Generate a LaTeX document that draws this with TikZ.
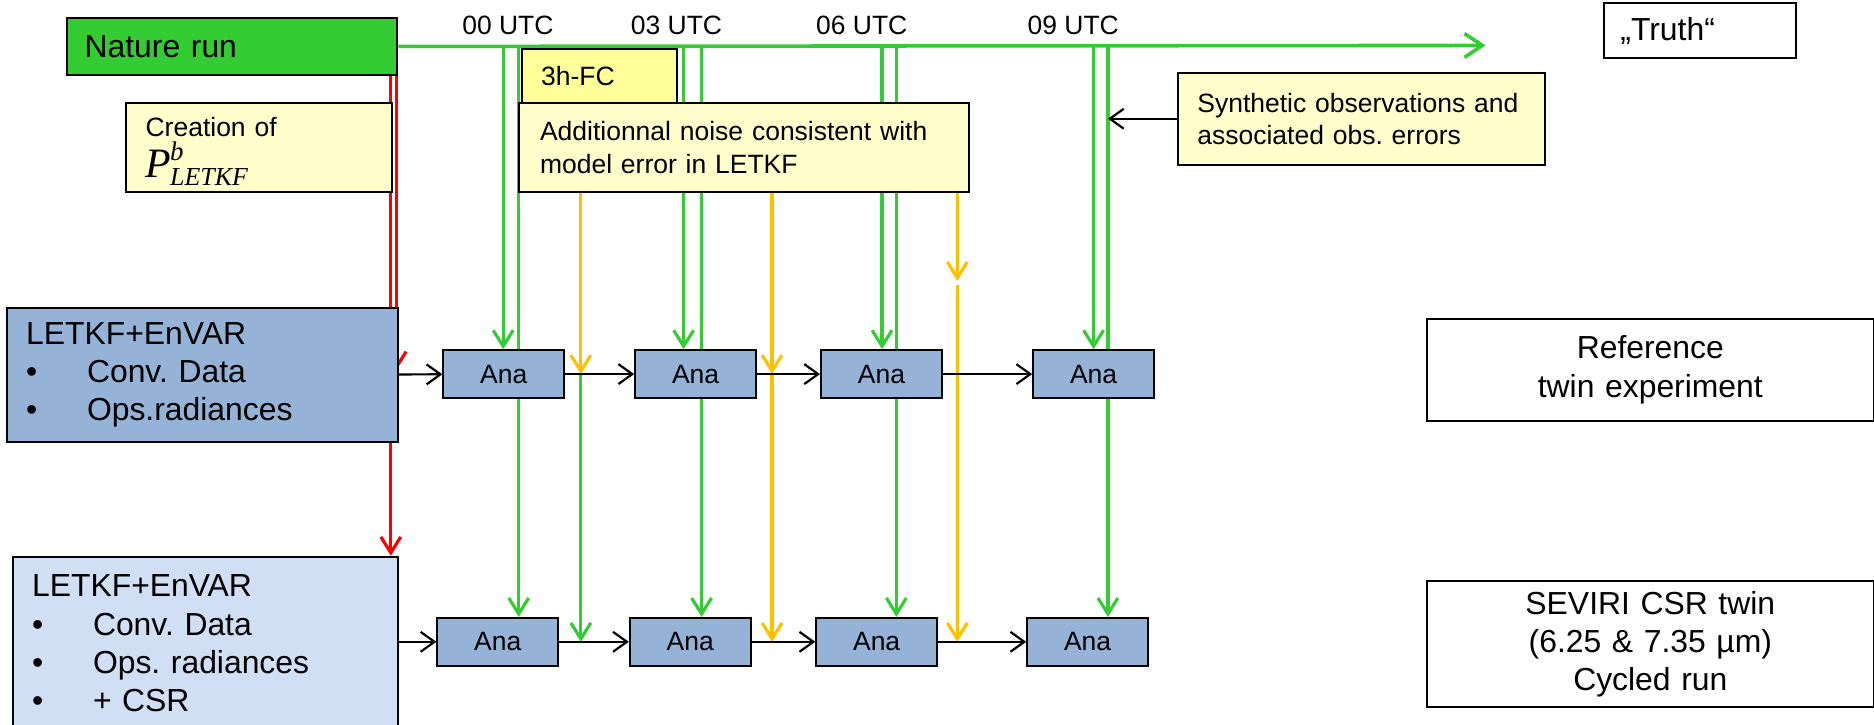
\documentclass[tikz,border=0pt]{standalone}
\usepackage{fontspec}
\setmainfont{Liberation Sans}
\newfontfamily\timesfont{Liberation Serif}
\usetikzlibrary{arrows.meta,backgrounds}
\frenchspacing

\definecolor{natgreen}{HTML}{33CC33}
\definecolor{fcorange}{HTML}{FFC000}
\definecolor{notefill}{HTML}{FFFFCC}
\definecolor{fcfill}{HTML}{FFFF99}
\definecolor{letkfblue}{HTML}{95B3D7}
\definecolor{csrblue}{HTML}{D0DFF3}

\newcommand{\bigtext}{\fontsize{16}{19.2}\selectfont}
\newcommand{\smalltext}{\fontsize{13.3}{16.2}\selectfont}
\newcommand{\pletkf}{{\timesfont\itshape\fontsize{21}{21}\selectfont P\kern-0.5pt\rlap{\smash{\raisebox{8.5pt}{\fontsize{13.5}{13.5}\selectfont b}}}\smash{\raisebox{-4pt}{\fontsize{13}{13}\selectfont LETKF}}}}

\begin{document}
\begin{tikzpicture}[x=0.6pt,y=-0.6pt]
  \tikzset{box/.style={draw,line width=1pt,anchor=north west,inner ysep=0pt,align=left},
           note/.style={box,fill=notefill,font=\smalltext},
           ana/.style={draw,line width=1pt,fill=letkfblue,inner sep=0pt,minimum width=60.6pt,minimum height=24pt,font=\smalltext},
           flow/.style={-{Straight Barb[length=7pt,width=10pt]},line width=1.1pt},
           obsline/.style={natgreen,line width=1.6pt,-{Straight Barb[length=8pt,width=10pt]}},
           fcline/.style={fcorange,line width=1.6pt,-{Straight Barb[length=8pt,width=10pt]}},
           ensline/.style={red,line width=1.6pt,-{Straight Barb[length=8pt,width=10pt]}}}
  \useasboundingbox (0,0) rectangle (1568,606);

  \node [box,fill=natgreen,font=\bigtext,inner xsep=9pt,text width=148pt,minimum height=28.2pt] (nat) at (55,14.5) {Nature run};
  \node [box,font=\bigtext,inner xsep=8.4pt,text width=79.8pt,minimum height=27.6pt] (truth) at (1341,2) {„Truth“};
  \node [box,fill=fcfill,font=\smalltext,inner xsep=9.6pt,text width=58.8pt,minimum height=27.6pt] (fc) at (436,40) {3h-FC};
  \node [note,inner xsep=10.8pt,text width=204.6pt,minimum height=45pt] (noise) at (433,85) {Additionnal noise consistent with\\model error in LETKF};
  \node [note,inner xsep=9.6pt,text width=114pt,minimum height=45pt] (create) at (105,85) {Creation of\\[4pt]\pletkf};
  \node [note,inner xsep=9.6pt,text width=165pt,minimum height=46.2pt] (synth) at (985,60) {Synthetic observations and\\associated obs. errors};

  \node [box,fill=letkfblue,font=\bigtext,inner xsep=9.6pt,text width=177pt,minimum height=67.2pt] (L1) at (5,257)
    {LETKF+EnVAR\\\makebox[30.6pt][l]{\textbullet}Conv. Data\\\makebox[30.6pt][l]{\textbullet}Ops.radiances};
  \node [box,fill=csrblue,font=\bigtext,inner xsep=9.6pt,text width=174pt,minimum height=87pt] (L2) at (10,465)
    {LETKF+EnVAR\\\makebox[30.6pt][l]{\textbullet}Conv. Data\\\makebox[30.6pt][l]{\textbullet}Ops. radiances\\\makebox[30.6pt][l]{\textbullet}+ CSR};
  \node [box,font=\bigtext,align=center,inner xsep=0pt,text width=224.4pt,minimum height=51pt] (ref) at (1193,266) {Reference\\twin experiment};
  \node [box,font=\bigtext,align=center,inner xsep=0pt,text width=224.4pt,minimum height=63.6pt] (sevi) at (1193,485) {SEVIRI CSR twin\\(6.25 \& 7.35 µm)\\Cycled run};

  \node [font=\smalltext] (u00) at (425,21.5) {00 UTC};
  \node [font=\smalltext] (u03) at (566,21.5) {03 UTC};
  \node [font=\smalltext] (u06) at (721,21.5) {06 UTC};
  \node [font=\smalltext] (u09) at (898,21.5) {09 UTC};

  \node [ana] (A1) at (421.5,313) {Ana};
  \node [ana] (A2) at (582,313) {Ana};
  \node [ana] (A3) at (737.5,313) {Ana};
  \node [ana] (A4) at (915,313) {Ana};
  \node [ana] (B1) at (416.5,537) {Ana};
  \node [ana] (B2) at (577.5,537) {Ana};
  \node [ana] (B3) at (733.5,537) {Ana};
  \node [ana] (B4) at (910,537) {Ana};

  \begin{scope}[on background layer]
    \coordinate (tend) at (1243,38);
    \draw [natgreen,line width=1.8pt,-{Straight Barb[length=9pt,width=12pt]}] (nat.east) -- (tend);
    \foreach \xa/\xb/\up/\dn [count=\i] in {421/434/A1/B1,572/587/A2/B2,738/750/A3/B3,915/927/A4/B4} {
      \coordinate (obsa\i) at (\xa,38);
      \coordinate (obsb\i) at (\xb,38);
      \draw [obsline] (obsa\i) -- (obsa\i |- \up.north);
      \draw [obsline] (obsb\i) -- (obsb\i |- \dn.north);
    }
    \coordinate (fc1) at (486,160);
    \coordinate (fc2) at (646,160);
    \coordinate (fc3) at (801,160);
    \coordinate (fc3mid) at (801,235);
    \draw [fcline] (fc1) -- (fc1 |- A1.east);
    \draw [obsline] (fc1 |- A1.east) -- (fc1 |- B1.east);
    \draw [fcline] (fc2) -- (fc2 |- A2.east);
    \draw [fcline] (fc2 |- A2.east) -- (fc2 |- B2.east);
    \draw [fcline] (fc3) -- (fc3mid);
    \draw [fcline] ([yshift=-2pt]fc3mid) -- (fc3 |- B3.east);
    \coordinate (ens1) at (331.5,61.5);
    \coordinate (ens2) at (327,61.5);
    \draw [ensline] (ens1) -- (331.5,310);
    \draw [ensline] (ens2) -- (ens2 |- L2.north);
  \end{scope}

  \draw [flow] (L1) -- (A1);
  \draw [flow] (A1) -- (A2);
  \draw [flow] (A2) -- (A3);
  \draw [flow] (A3) -- (A4);
  \draw [flow] (L2.east |- B1) -- (B1);
  \draw [flow] (B1) -- (B2);
  \draw [flow] (B2) -- (B3);
  \draw [flow] (B3) -- (B4);
  \draw [flow] (synth.west) -- (synth.west -| obsb4);
\end{tikzpicture}
\end{document}
